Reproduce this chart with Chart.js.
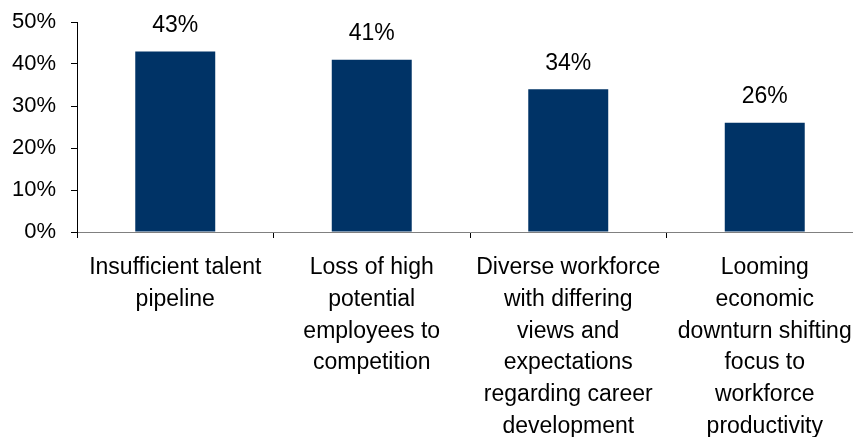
<!DOCTYPE html>
<html>
<head>
<meta charset="utf-8">
<script src="https://cdn.jsdelivr.net/npm/chart.js@4.4.1/dist/chart.umd.min.js"></script>
<style>
    html, body { margin: 0; padding: 0; overflow: hidden; background: #fff; }
</style>
</head>
<body>
<canvas id="chart" width="870" height="437"></canvas>
<script>
const categories = [
    ['Insufficient talent', 'pipeline'],
    ['Loss of high', 'potential', 'employees to', 'competition'],
    ['Diverse workforce', 'with differing', 'views and', 'expectations', 'regarding career', 'development'],
    ['Looming', 'economic', 'downturn shifting', 'focus to', 'workforce', 'productivity']
];
const values = [43, 41, 34, 26];
const yTicks = [0, 10, 20, 30, 40, 50];

const fontFamily = "'Liberation Sans', Arial, sans-serif";

// value labels above each bar
const valueLabels = {
    id: 'valueLabels',
    afterDatasetsDraw(chart) {
        const ctx = chart.ctx;
        const meta = chart.getDatasetMeta(0);
        ctx.save();
        ctx.font = '23px ' + fontFamily;
        ctx.fillStyle = '#000';
        ctx.textAlign = 'center';
        ctx.textBaseline = 'middle';
        meta.data.forEach((bar, i) => {
            ctx.fillText(values[i] + '%', bar.x, bar.y - 26);
        });
        ctx.restore();
    }
};

new Chart(document.getElementById('chart'), {
    type: 'bar',
    data: {
        labels: categories,
        datasets: [{
            data: values,
            backgroundColor: '#003366',
            borderWidth: 0,
            categoryPercentage: 0.407,
            barPercentage: 1
        }]
    },
    options: {
        responsive: false,
        animation: false,
        devicePixelRatio: 1,
        layout: { padding: { top: 22, right: 7, left: 0, bottom: 0 } },
        plugins: {
            legend: { display: false },
            tooltip: { enabled: false }
        },
        scales: {
            x: {
                z: 1,
                border: { color: '#808080', width: 1 },
                grid: { offset: true, drawOnChartArea: false, tickLength: 6, color: '#000' },
                ticks: {
                    autoSkip: false,
                    maxRotation: 0,
                    minRotation: 0,
                    padding: 14,
                    color: '#000',
                    font: { family: fontFamily, size: 23, lineHeight: 1.38 }
                },
                afterFit(scale) { scale.height = 205; }
            },
            y: {
                min: 0,
                max: 50,
                border: { color: '#000', width: 1 },
                grid: { drawOnChartArea: false, tickLength: 6, color: '#000' },
                afterBuildTicks(scale) {
                    scale.ticks = yTicks.map(v => ({ value: v }));
                },
                ticks: {
                    padding: 15,
                    color: '#000',
                    font: { family: fontFamily, size: 22 },
                    callback: v => v + '%'
                },
                afterFit(scale) {
                    scale.width = 77;
                    scale.paddingTop = 0;
                    scale.paddingBottom = 0;
                }
            }
        }
    },
    plugins: [valueLabels]
});
</script>
</body>
</html>
